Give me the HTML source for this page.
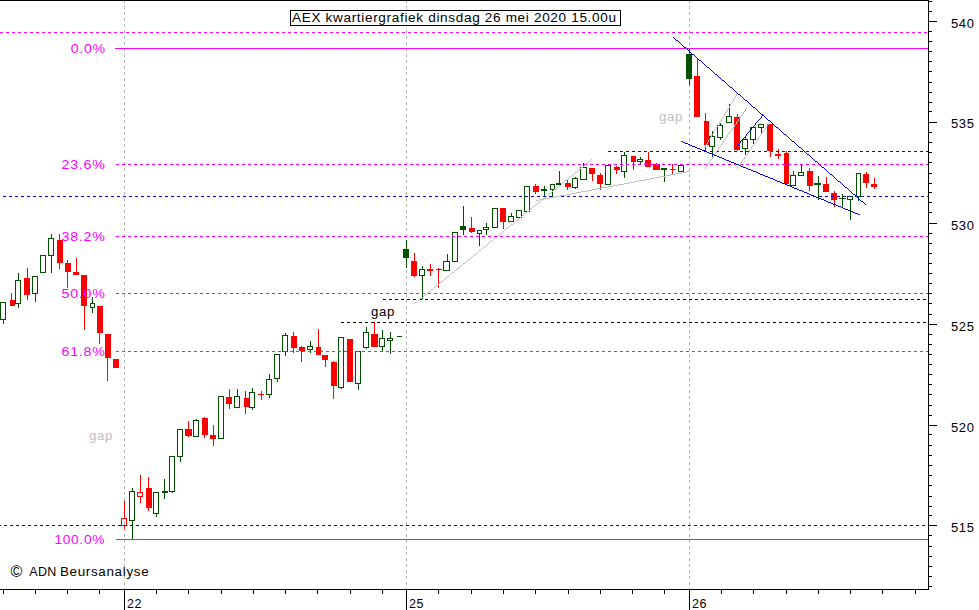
<!DOCTYPE html>
<html><head><meta charset="utf-8"><title>AEX kwartiergrafiek</title>
<style>
html,body{margin:0;padding:0;background:#fff;}
body{width:979px;height:610px;overflow:hidden;position:relative;font-family:"Liberation Sans",sans-serif;}
svg{position:absolute;left:0;top:0;}
.t{position:absolute;white-space:nowrap;line-height:1;color:#000;font-size:12.5px;letter-spacing:0.62px;transform-origin:0 0;transform:scaleX(1.084);}
.ax{left:951.4px;transform:scaleX(1.04);}
.fib{color:#ff00ff;text-align:right;right:873.4px;transform-origin:100% 0;transform:scaleX(1.14);}
.day{top:597.5px;transform:scaleX(1.0);}
</style></head><body>
<svg width="979" height="610" viewBox="0 0 979 610" shape-rendering="crispEdges">
<rect x="0" y="0" width="979" height="610" fill="#fff"/>
<!-- day separators -->
<g stroke="#b4b4b4" stroke-width="1" stroke-dasharray="3 3">
<line x1="124.5" y1="0" x2="124.5" y2="589"/>
<line x1="406.5" y1="0" x2="406.5" y2="589"/>
<line x1="689.5" y1="0" x2="689.5" y2="589"/>
</g>
<!-- candles -->
<rect x="3" y="320" width="1" height="4" fill="#005000"/>
<rect x="0.5" y="302.5" width="5" height="17" fill="none" stroke="#005000" stroke-width="1"/>
<rect x="11" y="293" width="1" height="13" fill="#ff0000"/>
<rect x="10" y="300" width="5" height="6" fill="#ff0000"/>
<rect x="18" y="273" width="1" height="7" fill="#005000"/>
<rect x="18" y="304" width="1" height="4" fill="#005000"/>
<rect x="15.5" y="280.5" width="5" height="23" fill="none" stroke="#005000" stroke-width="1"/>
<rect x="27" y="268" width="1" height="32" fill="#ff0000"/>
<rect x="24" y="278" width="6" height="17" fill="#ff0000"/>
<rect x="35" y="294" width="1" height="8" fill="#005000"/>
<rect x="32.5" y="276.5" width="5" height="17" fill="none" stroke="#005000" stroke-width="1"/>
<rect x="40.5" y="255.5" width="5" height="17" fill="none" stroke="#005000" stroke-width="1"/>
<rect x="51" y="234" width="1" height="4" fill="#005000"/>
<rect x="51" y="256" width="1" height="17" fill="#005000"/>
<rect x="48.5" y="238.5" width="5" height="17" fill="none" stroke="#005000" stroke-width="1"/>
<rect x="59" y="234" width="1" height="35" fill="#ff0000"/>
<rect x="57" y="240" width="6" height="23" fill="#ff0000"/>
<rect x="67" y="260" width="1" height="28" fill="#ff0000"/>
<rect x="65" y="263" width="6" height="9" fill="#ff0000"/>
<rect x="76" y="258" width="1" height="17" fill="#ff0000"/>
<rect x="73" y="272" width="6" height="3" fill="#ff0000"/>
<rect x="84" y="275" width="1" height="55" fill="#ff0000"/>
<rect x="81" y="275" width="6" height="31" fill="#ff0000"/>
<rect x="92" y="297" width="1" height="6" fill="#005000"/>
<rect x="92" y="308" width="1" height="5" fill="#005000"/>
<rect x="90.5" y="303.5" width="4" height="4" fill="none" stroke="#005000" stroke-width="1"/>
<rect x="99" y="306" width="1" height="38" fill="#ff0000"/>
<rect x="97" y="306" width="6" height="27" fill="#ff0000"/>
<rect x="107" y="334" width="1" height="47" fill="#ff0000"/>
<rect x="105" y="334" width="6" height="24" fill="#ff0000"/>
<rect x="113" y="359" width="6" height="9" fill="#ff0000"/>
<rect x="124" y="501" width="1" height="17" fill="#ff0000"/>
<rect x="124" y="526" width="1" height="3" fill="#ff0000"/>
<rect x="121.5" y="518.5" width="5" height="7" fill="none" stroke="#ff0000" stroke-width="1"/>
<rect x="132" y="488" width="1" height="3" fill="#005000"/>
<rect x="132" y="521" width="1" height="18" fill="#005000"/>
<rect x="129.5" y="491.5" width="5" height="29" fill="none" stroke="#005000" stroke-width="1"/>
<rect x="140" y="475" width="1" height="17" fill="#ff0000"/>
<rect x="140" y="497" width="1" height="6" fill="#ff0000"/>
<rect x="137.5" y="492.5" width="5" height="4" fill="none" stroke="#ff0000" stroke-width="1"/>
<rect x="148" y="477" width="1" height="34" fill="#ff0000"/>
<rect x="146" y="488" width="6" height="20" fill="#ff0000"/>
<rect x="156" y="514" width="1" height="3" fill="#005000"/>
<rect x="153.5" y="492.5" width="5" height="21" fill="none" stroke="#005000" stroke-width="1"/>
<rect x="164" y="479" width="1" height="20" fill="#005000"/>
<rect x="162" y="491" width="6" height="2" fill="#005000"/>
<rect x="172" y="492" width="1" height="1" fill="#005000"/>
<rect x="169.5" y="456.5" width="5" height="35" fill="none" stroke="#005000" stroke-width="1"/>
<rect x="180" y="457" width="1" height="5" fill="#005000"/>
<rect x="177.5" y="429.5" width="5" height="27" fill="none" stroke="#005000" stroke-width="1"/>
<rect x="188" y="421" width="1" height="16" fill="#ff0000"/>
<rect x="185" y="429" width="7" height="7" fill="#ff0000"/>
<rect x="196" y="419" width="1" height="1" fill="#005000"/>
<rect x="193.5" y="420.5" width="5" height="16" fill="none" stroke="#005000" stroke-width="1"/>
<rect x="204" y="417" width="1" height="21" fill="#ff0000"/>
<rect x="202" y="418" width="6" height="17" fill="#ff0000"/>
<rect x="213" y="425" width="1" height="21" fill="#ff0000"/>
<rect x="210" y="435" width="6" height="4" fill="#ff0000"/>
<rect x="218.5" y="396.5" width="5" height="42" fill="none" stroke="#005000" stroke-width="1"/>
<rect x="229" y="389" width="1" height="20" fill="#ff0000"/>
<rect x="226" y="397" width="6" height="7" fill="#ff0000"/>
<rect x="237" y="389" width="1" height="7" fill="#005000"/>
<rect x="234.5" y="396.5" width="5" height="11" fill="none" stroke="#005000" stroke-width="1"/>
<rect x="245" y="391" width="1" height="23" fill="#ff0000"/>
<rect x="244" y="398" width="5" height="9" fill="#ff0000"/>
<rect x="252" y="388" width="1" height="4" fill="#005000"/>
<rect x="252" y="408" width="1" height="2" fill="#005000"/>
<rect x="249.5" y="392.5" width="5" height="15" fill="none" stroke="#005000" stroke-width="1"/>
<rect x="261" y="391" width="1" height="9" fill="#ff0000"/>
<rect x="258" y="394" width="6" height="1" fill="#ff0000"/>
<rect x="269" y="374" width="1" height="5" fill="#005000"/>
<rect x="269" y="395" width="1" height="3" fill="#005000"/>
<rect x="266.5" y="379.5" width="5" height="15" fill="none" stroke="#005000" stroke-width="1"/>
<rect x="277" y="379" width="1" height="3" fill="#005000"/>
<rect x="274.5" y="354.5" width="5" height="24" fill="none" stroke="#005000" stroke-width="1"/>
<rect x="285" y="333" width="1" height="2" fill="#005000"/>
<rect x="285" y="352" width="1" height="4" fill="#005000"/>
<rect x="282.5" y="335.5" width="5" height="16" fill="none" stroke="#005000" stroke-width="1"/>
<rect x="293" y="332" width="1" height="21" fill="#ff0000"/>
<rect x="291" y="336" width="6" height="12" fill="#ff0000"/>
<rect x="301" y="346" width="1" height="16" fill="#ff0000"/>
<rect x="299" y="347" width="6" height="4" fill="#ff0000"/>
<rect x="310" y="341" width="1" height="5" fill="#005000"/>
<rect x="310" y="350" width="1" height="3" fill="#005000"/>
<rect x="307.5" y="346.5" width="5" height="3" fill="none" stroke="#005000" stroke-width="1"/>
<rect x="318" y="329" width="1" height="26" fill="#ff0000"/>
<rect x="316" y="347" width="5" height="8" fill="#ff0000"/>
<rect x="325" y="355" width="1" height="12" fill="#ff0000"/>
<rect x="322" y="355" width="6" height="5" fill="#ff0000"/>
<rect x="333" y="361" width="1" height="38" fill="#ff0000"/>
<rect x="331" y="362" width="6" height="24" fill="#ff0000"/>
<rect x="341" y="388" width="1" height="1" fill="#005000"/>
<rect x="338.5" y="337.5" width="5" height="50" fill="none" stroke="#005000" stroke-width="1"/>
<rect x="347" y="339" width="6" height="43" fill="#ff0000"/>
<rect x="358" y="384" width="1" height="6" fill="#005000"/>
<rect x="355.5" y="351.5" width="5" height="32" fill="none" stroke="#005000" stroke-width="1"/>
<rect x="366" y="327" width="1" height="5" fill="#005000"/>
<rect x="366" y="348" width="1" height="1" fill="#005000"/>
<rect x="363.5" y="332.5" width="5" height="15" fill="none" stroke="#005000" stroke-width="1"/>
<rect x="374" y="322" width="1" height="25" fill="#ff0000"/>
<rect x="371" y="334" width="7" height="13" fill="#ff0000"/>
<rect x="382" y="330" width="1" height="8" fill="#005000"/>
<rect x="382" y="347" width="1" height="4" fill="#005000"/>
<rect x="379.5" y="338.5" width="5" height="8" fill="none" stroke="#005000" stroke-width="1"/>
<rect x="390" y="332" width="1" height="6" fill="#005000"/>
<rect x="390" y="341" width="1" height="13" fill="#005000"/>
<rect x="387.5" y="338.5" width="5" height="2" fill="none" stroke="#005000" stroke-width="1"/>
<rect x="397" y="336" width="5" height="1" fill="#005000"/>
<rect x="406" y="240" width="1" height="28" fill="#005000"/>
<rect x="403" y="249" width="6" height="9" fill="#005000"/>
<rect x="414" y="253" width="1" height="24" fill="#ff0000"/>
<rect x="411" y="261" width="6" height="15" fill="#ff0000"/>
<rect x="422" y="266" width="1" height="3" fill="#005000"/>
<rect x="422" y="276" width="1" height="23" fill="#005000"/>
<rect x="419.5" y="269.5" width="5" height="6" fill="none" stroke="#005000" stroke-width="1"/>
<rect x="430" y="264" width="1" height="12" fill="#ff0000"/>
<rect x="427" y="269" width="6" height="2" fill="#ff0000"/>
<rect x="438" y="268" width="1" height="20" fill="#ff0000"/>
<rect x="436" y="269" width="6" height="1" fill="#ff0000"/>
<rect x="447" y="254" width="1" height="7" fill="#005000"/>
<rect x="443.5" y="261.5" width="6" height="9" fill="none" stroke="#005000" stroke-width="1"/>
<rect x="452.5" y="232.5" width="5" height="29" fill="none" stroke="#005000" stroke-width="1"/>
<rect x="463" y="206" width="1" height="29" fill="#005000"/>
<rect x="460" y="226" width="6" height="4" fill="#005000"/>
<rect x="471" y="217" width="1" height="16" fill="#ff0000"/>
<rect x="469" y="228" width="6" height="4" fill="#ff0000"/>
<rect x="479" y="234" width="1" height="12" fill="#005000"/>
<rect x="477.5" y="230.5" width="4" height="3" fill="none" stroke="#005000" stroke-width="1"/>
<rect x="486" y="223" width="1" height="4" fill="#005000"/>
<rect x="486" y="230" width="1" height="5" fill="#005000"/>
<rect x="483.5" y="227.5" width="5" height="2" fill="none" stroke="#005000" stroke-width="1"/>
<rect x="492.5" y="208.5" width="5" height="19" fill="none" stroke="#005000" stroke-width="1"/>
<rect x="503" y="208" width="1" height="21" fill="#ff0000"/>
<rect x="500" y="208" width="6" height="14" fill="#ff0000"/>
<rect x="511" y="213" width="1" height="3" fill="#005000"/>
<rect x="508.5" y="216.5" width="5" height="5" fill="none" stroke="#005000" stroke-width="1"/>
<rect x="516.5" y="210.5" width="5" height="7" fill="none" stroke="#005000" stroke-width="1"/>
<rect x="524.5" y="186.5" width="5" height="25" fill="none" stroke="#005000" stroke-width="1"/>
<rect x="535" y="184" width="1" height="10" fill="#ff0000"/>
<rect x="533" y="186" width="6" height="6" fill="#ff0000"/>
<rect x="544" y="186" width="1" height="10" fill="#005000"/>
<rect x="541" y="189" width="6" height="2" fill="#005000"/>
<rect x="552" y="190" width="1" height="7" fill="#005000"/>
<rect x="550.5" y="184.5" width="4" height="5" fill="none" stroke="#005000" stroke-width="1"/>
<rect x="559" y="171" width="1" height="13" fill="#005000"/>
<rect x="556" y="183" width="5" height="2" fill="#005000"/>
<rect x="567" y="180" width="1" height="10" fill="#ff0000"/>
<rect x="565" y="183" width="6" height="4" fill="#ff0000"/>
<rect x="575" y="177" width="1" height="1" fill="#005000"/>
<rect x="575" y="188" width="1" height="1" fill="#005000"/>
<rect x="572.5" y="178.5" width="5" height="9" fill="none" stroke="#005000" stroke-width="1"/>
<rect x="583" y="163" width="1" height="4" fill="#005000"/>
<rect x="580.5" y="167.5" width="6" height="12" fill="none" stroke="#005000" stroke-width="1"/>
<rect x="592" y="168" width="1" height="13" fill="#ff0000"/>
<rect x="589" y="168" width="6" height="6" fill="#ff0000"/>
<rect x="600" y="173" width="1" height="17" fill="#ff0000"/>
<rect x="597" y="175" width="6" height="9" fill="#ff0000"/>
<rect x="605.5" y="165.5" width="5" height="19" fill="none" stroke="#005000" stroke-width="1"/>
<rect x="616" y="166" width="1" height="8" fill="#ff0000"/>
<rect x="614" y="167" width="6" height="3" fill="#ff0000"/>
<rect x="624" y="152" width="1" height="3" fill="#005000"/>
<rect x="624" y="172" width="1" height="6" fill="#005000"/>
<rect x="621.5" y="155.5" width="5" height="16" fill="none" stroke="#005000" stroke-width="1"/>
<rect x="633" y="156" width="1" height="14" fill="#ff0000"/>
<rect x="631" y="156" width="5" height="6" fill="#ff0000"/>
<rect x="640" y="157" width="1" height="2" fill="#005000"/>
<rect x="640" y="162" width="1" height="2" fill="#005000"/>
<rect x="637.5" y="159.5" width="5" height="2" fill="none" stroke="#005000" stroke-width="1"/>
<rect x="648" y="152" width="1" height="15" fill="#ff0000"/>
<rect x="645" y="160" width="6" height="7" fill="#ff0000"/>
<rect x="656" y="163" width="1" height="7" fill="#ff0000"/>
<rect x="653" y="164" width="7" height="6" fill="#ff0000"/>
<rect x="664" y="168" width="1" height="14" fill="#005000"/>
<rect x="661" y="168" width="6" height="2" fill="#005000"/>
<rect x="672" y="164" width="1" height="10" fill="#ff0000"/>
<rect x="670" y="169" width="6" height="1" fill="#ff0000"/>
<rect x="678.5" y="165.5" width="5" height="6" fill="none" stroke="#005000" stroke-width="1"/>
<rect x="689" y="48" width="1" height="37" fill="#005000"/>
<rect x="686" y="54" width="6" height="25" fill="#005000"/>
<rect x="697" y="58" width="1" height="59" fill="#ff0000"/>
<rect x="694" y="76" width="6" height="41" fill="#ff0000"/>
<rect x="705" y="113" width="1" height="38" fill="#ff0000"/>
<rect x="704" y="121" width="5" height="24" fill="#ff0000"/>
<rect x="712" y="131" width="1" height="5" fill="#005000"/>
<rect x="712" y="147" width="1" height="11" fill="#005000"/>
<rect x="709.5" y="136.5" width="5" height="10" fill="none" stroke="#005000" stroke-width="1"/>
<rect x="720" y="123" width="1" height="2" fill="#005000"/>
<rect x="720" y="138" width="1" height="2" fill="#005000"/>
<rect x="717.5" y="125.5" width="5" height="12" fill="none" stroke="#005000" stroke-width="1"/>
<rect x="729" y="104" width="1" height="12" fill="#005000"/>
<rect x="726.5" y="116.5" width="5" height="6" fill="none" stroke="#005000" stroke-width="1"/>
<rect x="737" y="114" width="1" height="37" fill="#ff0000"/>
<rect x="734" y="117" width="6" height="33" fill="#ff0000"/>
<rect x="745" y="136" width="1" height="3" fill="#005000"/>
<rect x="745" y="149" width="1" height="6" fill="#005000"/>
<rect x="742.5" y="139.5" width="5" height="9" fill="none" stroke="#005000" stroke-width="1"/>
<rect x="753" y="140" width="1" height="4" fill="#005000"/>
<rect x="750.5" y="127.5" width="5" height="12" fill="none" stroke="#005000" stroke-width="1"/>
<rect x="761" y="128" width="1" height="6" fill="#005000"/>
<rect x="758.5" y="124.5" width="5" height="3" fill="none" stroke="#005000" stroke-width="1"/>
<rect x="770" y="124" width="1" height="33" fill="#ff0000"/>
<rect x="767" y="124" width="6" height="27" fill="#ff0000"/>
<rect x="778" y="149" width="1" height="10" fill="#ff0000"/>
<rect x="775" y="154" width="6" height="2" fill="#ff0000"/>
<rect x="786" y="151" width="1" height="33" fill="#ff0000"/>
<rect x="784" y="153" width="5" height="31" fill="#ff0000"/>
<rect x="793" y="171" width="1" height="4" fill="#005000"/>
<rect x="790.5" y="175.5" width="5" height="10" fill="none" stroke="#005000" stroke-width="1"/>
<rect x="801" y="165" width="1" height="7" fill="#005000"/>
<rect x="798.5" y="172.5" width="5" height="3" fill="none" stroke="#005000" stroke-width="1"/>
<rect x="809" y="168" width="1" height="23" fill="#ff0000"/>
<rect x="807" y="171" width="6" height="15" fill="#ff0000"/>
<rect x="818" y="176" width="1" height="24" fill="#005000"/>
<rect x="814" y="183" width="7" height="2" fill="#005000"/>
<rect x="826" y="177" width="1" height="15" fill="#ff0000"/>
<rect x="823" y="184" width="6" height="8" fill="#ff0000"/>
<rect x="834" y="191" width="1" height="16" fill="#ff0000"/>
<rect x="831" y="193" width="6" height="7" fill="#ff0000"/>
<rect x="842" y="194" width="1" height="14" fill="#005000"/>
<rect x="839" y="198" width="7" height="1" fill="#005000"/>
<rect x="850" y="200" width="1" height="20" fill="#005000"/>
<rect x="847.5" y="196.5" width="5" height="3" fill="none" stroke="#005000" stroke-width="1"/>
<rect x="858" y="197" width="1" height="4" fill="#005000"/>
<rect x="856.5" y="173.5" width="4" height="23" fill="none" stroke="#005000" stroke-width="1"/>
<rect x="866" y="172" width="1" height="16" fill="#ff0000"/>
<rect x="863" y="174" width="6" height="9" fill="#ff0000"/>
<rect x="874" y="178" width="1" height="11" fill="#ff0000"/>
<rect x="871" y="184" width="6" height="3" fill="#ff0000"/>
<!-- horizontal lines -->
<g stroke-width="1" fill="none">
<line x1="0" y1="32.5" x2="928" y2="32.5" stroke="#ff00ff" stroke-dasharray="3 3"/>
<line x1="115" y1="48.5" x2="928" y2="48.5" stroke="#ff00ff"/>
<line x1="116" y1="164.5" x2="928" y2="164.5" stroke="#ff00ff" stroke-dasharray="3 3"/>
<line x1="116" y1="236.5" x2="928" y2="236.5" stroke="#ff00ff" stroke-dasharray="3 3"/>
<line x1="116" y1="293.5" x2="928" y2="293.5" stroke="#ff00ff" stroke-dasharray="3 3"/>
<line x1="116" y1="351.5" x2="928" y2="351.5" stroke="#ff00ff" stroke-dasharray="3 3"/>
<line x1="116" y1="539.5" x2="928" y2="539.5" stroke="#ff00ff"/>
<line x1="-3" y1="196.5" x2="928" y2="196.5" stroke="#0000ff" stroke-dasharray="3 3"/>
<line x1="-2" y1="525.5" x2="928" y2="525.5" stroke="#0000ff" stroke-dasharray="3 3"/>
<line x1="608" y1="151.5" x2="928" y2="151.5" stroke="#0000ff" stroke-dasharray="3 3"/>
<line x1="383" y1="299.5" x2="928" y2="299.5" stroke="#000" stroke-dasharray="3 3"/>
<line x1="341" y1="322.5" x2="928" y2="322.5" stroke="#000" stroke-dasharray="3 3"/>
</g>
<!-- grey trend lines -->
<path d="M414 303.5h1M415 302.5h2M417 301.5h1M418 300.5h1M419 299.5h1M420 298.5h2M422 297.5h1M423 296.5h1M424 295.5h1M425 294.5h2M427 293.5h1M428 292.5h1M429 291.5h1M430 290.5h1M431 289.5h2M433 288.5h1M434 287.5h1M435 286.5h1M436 285.5h2M438 284.5h1M439 283.5h1M440 282.5h1M441 281.5h2M443 280.5h1M444 279.5h1M445 278.5h1M446 277.5h1M447 276.5h2M449 275.5h1M450 274.5h1M451 273.5h1M452 272.5h2M454 271.5h1M455 270.5h1M456 269.5h1M457 268.5h2M459 267.5h1M460 266.5h1M461 265.5h1M462 264.5h1M463 263.5h2M465 262.5h1M466 261.5h1M467 260.5h1M468 259.5h2M470 258.5h1M471 257.5h1M472 256.5h1M473 255.5h1M474 254.5h2M476 253.5h1M477 252.5h1M478 251.5h1M479 250.5h2M481 249.5h1M482 248.5h1M483 247.5h1M484 246.5h2M486 245.5h1M487 244.5h1M488 243.5h1M489 242.5h1M490 241.5h2M492 240.5h1M493 239.5h1M494 238.5h1M495 237.5h2M497 236.5h1M498 235.5h1M499 234.5h1M500 233.5h2M502 232.5h1M503 231.5h1M504 230.5h1M505 229.5h1M506 228.5h2M508 227.5h1M509 226.5h1M510 225.5h1M511 224.5h2M513 223.5h1M514 222.5h1M515 221.5h1M516 220.5h2M518 219.5h1M519 218.5h1M520 217.5h1M521 216.5h1M522 215.5h2M524 214.5h1M525 213.5h1M526 212.5h1M527 211.5h2M529 210.5h1M530 209.5h1M531 208.5h1M532 207.5h1M533 206.5h2M535 205.5h1M536 204.5h1M537 203.5h1M538 202.5h2M540 201.5h1M541 200.5h1M542 199.5h1M543 198.5h2M545 197.5h1M546 196.5h1M547 195.5h1M548 194.5h1M549 193.5h2M551 192.5h1M552 191.5h1M553 190.5h1M554 189.5h2M556 188.5h1M557 187.5h1M558 186.5h1M559 185.5h2M561 184.5h1M562 183.5h1M563 182.5h1M564 181.5h1M565 180.5h2M567 179.5h1M568 178.5h1M569 177.5h1M570 176.5h2M572 175.5h1M573 174.5h1M574 173.5h1M575 172.5h2M577 171.5h1M578 170.5h1M579 169.5h1M580 168.5h1M581 167.5h2M583 166.5h1M584 165.5h1M585 164.5h1M586 163.5h2M588 162.5h1M589 161.5h1M590 160.5h1M591 159.5h1" stroke="#c0c0c0" stroke-width="1" fill="none"/>
<path d="M536 200.5h3M539 199.5h5M544 198.5h6M550 197.5h5M555 196.5h5M560 195.5h6M566 194.5h5M571 193.5h5M576 192.5h5M581 191.5h6M587 190.5h5M592 189.5h5M597 188.5h5M602 187.5h6M608 186.5h5M613 185.5h5M618 184.5h6M624 183.5h5M629 182.5h5M634 181.5h5M639 180.5h6M645 179.5h5M650 178.5h5M655 177.5h5M660 176.5h6M666 175.5h5M671 174.5h5M676 173.5h6M682 172.5h5M687 171.5h3" stroke="#c0c0c0" stroke-width="1" fill="none"/>
<path d="M736.5 94v2M735.5 96v2M734.5 98v1M733.5 99v2M732.5 101v2M731.5 103v1M730.5 104v2M729.5 106v2M728.5 108v1M727.5 109v2M726.5 111v1M725.5 112v2M724.5 114v2M723.5 116v1M722.5 117v2M721.5 119v2M720.5 121v1M719.5 122v2M718.5 124v2M717.5 126v1M716.5 127v2M715.5 129v1M714.5 130v2M713.5 132v2M712.5 134v1M711.5 135v2M710.5 137v2M709.5 139v1M708.5 140v2M707.5 142v2M706.5 144v1M705.5 145v2" stroke="#c0c0c0" stroke-width="1" fill="none"/>
<path d="M746.5 108v1M745.5 109v2M744.5 111v1M743.5 112v2M742.5 114v1M741.5 115v1M740.5 116v2M739.5 118v1M738.5 119v2M737.5 121v1M736.5 122v2M735.5 124v1M734.5 125v2M733.5 127v1M732.5 128v2M731.5 130v1M730.5 131v1M729.5 132v2M728.5 134v1M727.5 135v2M726.5 137v1M725.5 138v2M724.5 140v1M723.5 141v2M722.5 143v1M721.5 144v2M720.5 146v1M719.5 147v1M718.5 148v2M717.5 150v1M716.5 151v2M715.5 153v1M714.5 154v2M713.5 156v1M712.5 157v2M711.5 159v1M710.5 160v2M709.5 162v1M708.5 163v1M707.5 164v2M706.5 166v1M705.5 167v2" stroke="#c0c0c0" stroke-width="1" fill="none"/>
<path d="M769.5 122v1M768.5 123v2M767.5 125v1M766.5 126v1M765.5 127v2M764.5 129v1M763.5 130v2M762.5 132v1M761.5 133v2M760.5 135v1M759.5 136v1M758.5 137v2M757.5 139v1M756.5 140v2M755.5 142v1M754.5 143v2M753.5 145v1M752.5 146v1M751.5 147v2M750.5 149v1M749.5 150v2M748.5 152v1M747.5 153v2M746.5 155v1M745.5 156v1M744.5 157v2M743.5 159v1M742.5 160v2M741.5 162v1M740.5 163v2M739.5 165v1M738.5 166v1M737.5 167v2" stroke="#c0c0c0" stroke-width="1" fill="none"/>
<!-- blue wedge -->
<path d="M673 37.5h1M674 38.5h1M675 39.5h1M676 40.5h2M678 41.5h1M679 42.5h1M680 43.5h1M681 44.5h1M682 45.5h1M683 46.5h1M684 47.5h2M686 48.5h1M687 49.5h1M688 50.5h1M689 51.5h1M690 52.5h1M691 53.5h1M692 54.5h2M694 55.5h1M695 56.5h1M696 57.5h1M697 58.5h1M698 59.5h1M699 60.5h2M701 61.5h1M702 62.5h1M703 63.5h1M704 64.5h1M705 65.5h1M706 66.5h1M707 67.5h2M709 68.5h1M710 69.5h1M711 70.5h1M712 71.5h1M713 72.5h1M714 73.5h1M715 74.5h2M717 75.5h1M718 76.5h1M719 77.5h1M720 78.5h1M721 79.5h1M722 80.5h2M724 81.5h1M725 82.5h1M726 83.5h1M727 84.5h1M728 85.5h1M729 86.5h1M730 87.5h2M732 88.5h1M733 89.5h1M734 90.5h1M735 91.5h1M736 92.5h1M737 93.5h1M738 94.5h2M740 95.5h1M741 96.5h1M742 97.5h1M743 98.5h1M744 99.5h1M745 100.5h2M747 101.5h1M748 102.5h1M749 103.5h1M750 104.5h1M751 105.5h1M752 106.5h1M753 107.5h2M755 108.5h1M756 109.5h1M757 110.5h1M758 111.5h1M759 112.5h1M760 113.5h1M761 114.5h2M763 115.5h1M764 116.5h1M765 117.5h1M766 118.5h1M767 119.5h1M768 120.5h2M770 121.5h1M771 122.5h1M772 123.5h1M773 124.5h1M774 125.5h1M775 126.5h1M776 127.5h2M778 128.5h1M779 129.5h1M780 130.5h1M781 131.5h1M782 132.5h1M783 133.5h1M784 134.5h2M786 135.5h1M787 136.5h1M788 137.5h1M789 138.5h1M790 139.5h1M791 140.5h1M792 141.5h2M794 142.5h1M795 143.5h1M796 144.5h1M797 145.5h1M798 146.5h1M799 147.5h2M801 148.5h1M802 149.5h1M803 150.5h1M804 151.5h1M805 152.5h1M806 153.5h1M807 154.5h2M809 155.5h1M810 156.5h1M811 157.5h1M812 158.5h1M813 159.5h1M814 160.5h1M815 161.5h2M817 162.5h1M818 163.5h1M819 164.5h1M820 165.5h1M821 166.5h1M822 167.5h2M824 168.5h1M825 169.5h1M826 170.5h1M827 171.5h1M828 172.5h1M829 173.5h1M830 174.5h2M832 175.5h1M833 176.5h1M834 177.5h1M835 178.5h1M836 179.5h1M837 180.5h1M838 181.5h2M840 182.5h1M841 183.5h1M842 184.5h1M843 185.5h1M844 186.5h1M845 187.5h2M847 188.5h1M848 189.5h1M849 190.5h1M850 191.5h1M851 192.5h1M852 193.5h1M853 194.5h2M855 195.5h1M856 196.5h1M857 197.5h1M858 198.5h1M859 199.5h1M860 200.5h1M861 201.5h2M863 202.5h1M864 203.5h1M865 204.5h1" stroke="#0000ff" stroke-width="1" fill="none"/>
<path d="M681 141.5h2M683 142.5h2M685 143.5h3M688 144.5h2M690 145.5h2M692 146.5h3M695 147.5h2M697 148.5h3M700 149.5h2M702 150.5h3M705 151.5h2M707 152.5h2M709 153.5h3M712 154.5h2M714 155.5h3M717 156.5h2M719 157.5h3M722 158.5h2M724 159.5h2M726 160.5h3M729 161.5h2M731 162.5h3M734 163.5h2M736 164.5h3M739 165.5h2M741 166.5h2M743 167.5h3M746 168.5h2M748 169.5h3M751 170.5h2M753 171.5h3M756 172.5h2M758 173.5h2M760 174.5h3M763 175.5h2M765 176.5h3M768 177.5h2M770 178.5h3M773 179.5h2M775 180.5h2M777 181.5h3M780 182.5h2M782 183.5h3M785 184.5h2M787 185.5h3M790 186.5h2M792 187.5h2M794 188.5h3M797 189.5h2M799 190.5h3M802 191.5h2M804 192.5h3M807 193.5h2M809 194.5h2M811 195.5h3M814 196.5h2M816 197.5h3M819 198.5h2M821 199.5h3M824 200.5h2M826 201.5h2M828 202.5h3M831 203.5h2M833 204.5h3M836 205.5h2M838 206.5h3M841 207.5h2M843 208.5h2M845 209.5h3M848 210.5h2M850 211.5h3M853 212.5h2M855 213.5h3M858 214.5h2" stroke="#0000ff" stroke-width="1" fill="none"/>
<path d="M741.5 140v1M740.5 141v2M739.5 143v1M738.5 144v2M737.5 146v1" stroke="#0000ff" stroke-width="1" fill="none"/>
<path d="M748.5 132v1M747.5 133v1M746.5 134v2M745.5 136v1M744.5 137v1M743.5 138v1M742.5 139v1M741.5 140v1" stroke="#0000ff" stroke-width="1" fill="none"/>
<path d="M755.5 124v1M754.5 125v1M753.5 126v1M752.5 127v1M751.5 128v2M750.5 130v1M749.5 131v1M748.5 132v1" stroke="#0000ff" stroke-width="1" fill="none"/>
<path d="M762.5 115v1M761.5 116v2M760.5 118v1M759.5 119v1M758.5 120v1M757.5 121v1M756.5 122v1M755.5 123v2" stroke="#0000ff" stroke-width="1" fill="none"/>
<!-- frame / axes -->
<rect x="0" y="0" width="929" height="1" fill="#000"/>
<rect x="928" y="0" width="1" height="590" fill="#000"/>
<rect x="0" y="589" width="929" height="1" fill="#000"/>
<rect x="928" y="1" width="4" height="1" fill="#000"/>
<rect x="928" y="11" width="4" height="1" fill="#000"/>
<rect x="928" y="21" width="9" height="1" fill="#000"/>
<rect x="928" y="31" width="4" height="1" fill="#000"/>
<rect x="928" y="41" width="4" height="1" fill="#000"/>
<rect x="928" y="51" width="4" height="1" fill="#000"/>
<rect x="928" y="61" width="4" height="1" fill="#000"/>
<rect x="928" y="71" width="4" height="1" fill="#000"/>
<rect x="928" y="82" width="4" height="1" fill="#000"/>
<rect x="928" y="92" width="4" height="1" fill="#000"/>
<rect x="928" y="102" width="4" height="1" fill="#000"/>
<rect x="928" y="111" width="4" height="1" fill="#000"/>
<rect x="928" y="122" width="9" height="1" fill="#000"/>
<rect x="928" y="132" width="4" height="1" fill="#000"/>
<rect x="928" y="142" width="4" height="1" fill="#000"/>
<rect x="928" y="152" width="4" height="1" fill="#000"/>
<rect x="928" y="162" width="4" height="1" fill="#000"/>
<rect x="928" y="173" width="4" height="1" fill="#000"/>
<rect x="928" y="183" width="4" height="1" fill="#000"/>
<rect x="928" y="192" width="4" height="1" fill="#000"/>
<rect x="928" y="202" width="4" height="1" fill="#000"/>
<rect x="928" y="212" width="4" height="1" fill="#000"/>
<rect x="928" y="223" width="9" height="1" fill="#000"/>
<rect x="928" y="233" width="4" height="1" fill="#000"/>
<rect x="928" y="243" width="4" height="1" fill="#000"/>
<rect x="928" y="253" width="4" height="1" fill="#000"/>
<rect x="928" y="263" width="4" height="1" fill="#000"/>
<rect x="928" y="273" width="4" height="1" fill="#000"/>
<rect x="928" y="283" width="4" height="1" fill="#000"/>
<rect x="928" y="293" width="4" height="1" fill="#000"/>
<rect x="928" y="303" width="4" height="1" fill="#000"/>
<rect x="928" y="314" width="4" height="1" fill="#000"/>
<rect x="928" y="324" width="9" height="1" fill="#000"/>
<rect x="928" y="334" width="4" height="1" fill="#000"/>
<rect x="928" y="344" width="4" height="1" fill="#000"/>
<rect x="928" y="354" width="4" height="1" fill="#000"/>
<rect x="928" y="364" width="4" height="1" fill="#000"/>
<rect x="928" y="374" width="4" height="1" fill="#000"/>
<rect x="928" y="384" width="4" height="1" fill="#000"/>
<rect x="928" y="394" width="4" height="1" fill="#000"/>
<rect x="928" y="405" width="4" height="1" fill="#000"/>
<rect x="928" y="415" width="4" height="1" fill="#000"/>
<rect x="928" y="425" width="9" height="1" fill="#000"/>
<rect x="928" y="434" width="4" height="1" fill="#000"/>
<rect x="928" y="445" width="4" height="1" fill="#000"/>
<rect x="928" y="455" width="4" height="1" fill="#000"/>
<rect x="928" y="465" width="4" height="1" fill="#000"/>
<rect x="928" y="475" width="4" height="1" fill="#000"/>
<rect x="928" y="485" width="4" height="1" fill="#000"/>
<rect x="928" y="496" width="4" height="1" fill="#000"/>
<rect x="928" y="506" width="4" height="1" fill="#000"/>
<rect x="928" y="515" width="4" height="1" fill="#000"/>
<rect x="928" y="525" width="9" height="1" fill="#000"/>
<rect x="928" y="535" width="4" height="1" fill="#000"/>
<rect x="928" y="546" width="4" height="1" fill="#000"/>
<rect x="928" y="556" width="4" height="1" fill="#000"/>
<rect x="928" y="566" width="4" height="1" fill="#000"/>
<rect x="928" y="576" width="4" height="1" fill="#000"/>
<rect x="928" y="586" width="4" height="1" fill="#000"/>
<rect x="124" y="589" width="1" height="21" fill="#000"/>
<rect x="406" y="589" width="1" height="21" fill="#000"/>
<rect x="689" y="589" width="1" height="21" fill="#000"/>
<rect x="3" y="589" width="1" height="5" fill="#000"/>
<rect x="35" y="589" width="1" height="5" fill="#000"/>
<rect x="67" y="589" width="1" height="5" fill="#000"/>
<rect x="99" y="589" width="1" height="5" fill="#000"/>
<rect x="156" y="589" width="1" height="5" fill="#000"/>
<rect x="188" y="589" width="1" height="5" fill="#000"/>
<rect x="221" y="589" width="1" height="5" fill="#000"/>
<rect x="253" y="589" width="1" height="5" fill="#000"/>
<rect x="285" y="589" width="1" height="5" fill="#000"/>
<rect x="317" y="589" width="1" height="5" fill="#000"/>
<rect x="350" y="589" width="1" height="5" fill="#000"/>
<rect x="382" y="589" width="1" height="5" fill="#000"/>
<rect x="438" y="589" width="1" height="5" fill="#000"/>
<rect x="471" y="589" width="1" height="5" fill="#000"/>
<rect x="503" y="589" width="1" height="5" fill="#000"/>
<rect x="535" y="589" width="1" height="5" fill="#000"/>
<rect x="568" y="589" width="1" height="5" fill="#000"/>
<rect x="600" y="589" width="1" height="5" fill="#000"/>
<rect x="632" y="589" width="1" height="5" fill="#000"/>
<rect x="664" y="589" width="1" height="5" fill="#000"/>
<rect x="721" y="589" width="1" height="5" fill="#000"/>
<rect x="753" y="589" width="1" height="5" fill="#000"/>
<rect x="786" y="589" width="1" height="5" fill="#000"/>
<rect x="818" y="589" width="1" height="5" fill="#000"/>
<rect x="850" y="589" width="1" height="5" fill="#000"/>
<rect x="882" y="589" width="1" height="5" fill="#000"/>
<rect x="915" y="589" width="1" height="5" fill="#000"/>
<!-- title box -->
<rect x="290.5" y="10.5" width="330" height="15" fill="#fff" stroke="#000" stroke-width="1"/>
</svg>
<div class="t" id="title" style="left:292.3px;top:11.5px;">AEX kwartiergrafiek dinsdag 26 mei 2020 15.00u</div>
<div class="t ax" style="top:18px">540</div>
<div class="t ax" style="top:118px">535</div>
<div class="t ax" style="top:220px">530</div>
<div class="t ax" style="top:321px">525</div>
<div class="t ax" style="top:422px">520</div>
<div class="t ax" style="top:522px">515</div>
<div class="t fib" style="top:43px">0.0%</div>
<div class="t fib" style="top:159px">23.6%</div>
<div class="t fib" style="top:231px">38.2%</div>
<div class="t fib" style="top:288px">50.0%</div>
<div class="t fib" style="top:346px">61.8%</div>
<div class="t fib" style="top:534px;transform:scaleX(1.10)">100.0%</div>
<div class="t" id="gap1" style="left:88.6px;top:430px;color:#c0c0c0;transform:scaleX(1.06)">gap</div>
<div class="t" id="gap2" style="left:370.5px;top:306px;transform:scaleX(1.06)">gap</div>
<div class="t" id="gap3" style="left:658.5px;top:111px;color:#c0c0c0;transform:scaleX(1.06)">gap</div>
<div class="t" style="left:10.4px;top:564.4px;font-size:16px;letter-spacing:0;transform:none">©</div>
<div class="t" style="left:29.3px;top:566.4px;letter-spacing:0.3px;transform:scaleX(1.0)">ADN</div>
<div class="t" style="left:60px;top:566.4px;transform:scaleX(1.073)">Beursanalyse</div>
<div class="t day" style="left:127px">22</div>
<div class="t day" style="left:409px">25</div>
<div class="t day" style="left:692px">26</div>
</body></html>
